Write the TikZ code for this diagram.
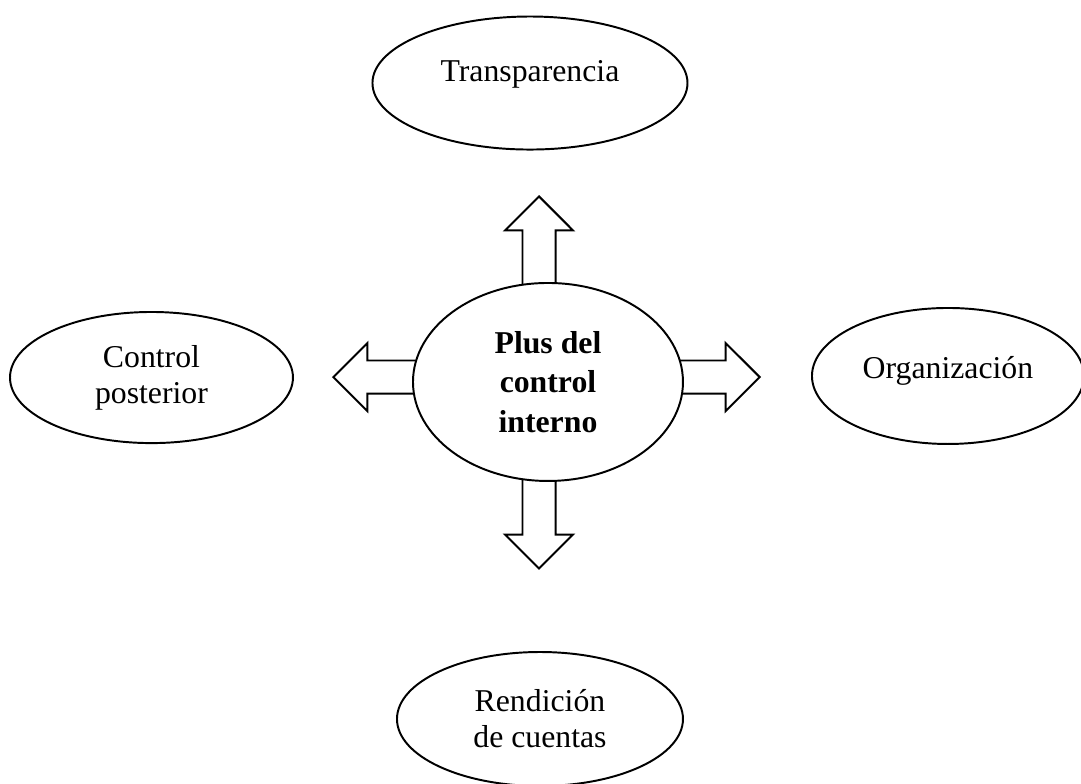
\documentclass[tikz,border=0pt]{standalone}
\usepackage{fontspec}
\setmainfont{Liberation Serif}
\usetikzlibrary{shapes.geometric,shapes.arrows}

\begin{document}
\begin{tikzpicture}
\tikzset{idea/.style={draw,ellipse,fill=white,line width=0.75pt,inner sep=0pt,align=center,font=\fontsize{12.2}{13.8}\selectfont}}
\tikzset{core/.style={idea,font=\fontsize{12.2}{15.3}\selectfont\bfseries}}
\tikzset{blockarr/.style={draw,single arrow,fill=white,line width=0.75pt,inner xsep=0pt,inner ysep=0.21cm,single arrow head extend=0.235cm,minimum height=1.28cm}}

\useasboundingbox (0,0) rectangle (14.594,10.571);

% arrows first, the centre ellipse hides their tails
\node[blockarr,rotate=90,anchor=tip] (aup) at (7.277,7.938) {};
\node[blockarr,rotate=-90,anchor=tip] (adown) at (7.277,2.876) {};
\node[blockarr,rotate=180,anchor=tip,minimum height=1.19cm] (aleft) at (4.482,5.481) {};
\node[blockarr,anchor=tip,minimum height=1.19cm] (aright) at (10.274,5.481) {};

\node[core,minimum width=3.645cm,minimum height=2.673cm] (plus) at (7.398,5.414) {Plus del\\control\\interno};

\node[idea,minimum width=4.253cm,minimum height=1.796cm,text depth=3.2mm] (transp) at (7.155,9.450) {Transparencia};
\node[idea,minimum width=3.82cm,minimum height=1.77cm] (ctrl) at (2.045,5.474) {Control\\posterior};
\node[idea,minimum width=3.672cm,minimum height=1.836cm,text depth=2.35mm] (org) at (12.798,5.495) {Organización};
\node[idea,minimum width=3.861cm,minimum height=1.809cm] (rend) at (7.29,0.864) {Rendición\\de cuentas};

\end{tikzpicture}
\end{document}
